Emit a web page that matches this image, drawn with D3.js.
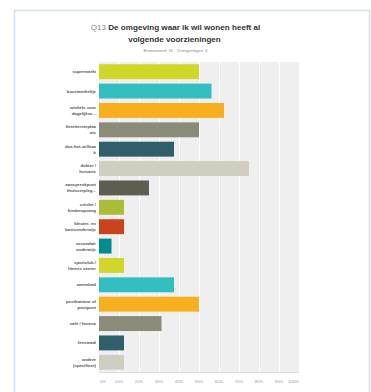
<!DOCTYPE html>
<html>
<head>
<meta charset="utf-8">
<script src="https://cdn.jsdelivr.net/npm/d3@7"></script>
<style>
  html, body { margin: 0; padding: 0; background: #fff; }
  svg { display: block; font-family: "Liberation Sans", Arial, Helvetica, sans-serif; }
</style>
</head>
<body>
<svg id="chart" width="371" height="392"></svg>
<script>
const categories = [
  ["supermarkt"],
  ["buurtwinkeltje"],
  ["winkels voor", "dagelijkse..."],
  ["fietshersteplaa", "ats"],
  ["doe-het-zelfzaa", "k"],
  ["dokter /", "huisarts"],
  ["aanspreekpunt", "thuisverpleg..."],
  ["crèche /", "kinderopvang"],
  ["kleuter- en", "basisonderwijs"],
  ["secundair", "onderwijs"],
  ["sportclub /", "fitness center"],
  ["zwembad"],
  ["postkantoor of", "postpunt"],
  ["café / horeca"],
  ["feestzaal"],
  ["andere", "(specifieer)"]
];
const values = [50, 56.25, 62.5, 50, 37.5, 75, 25, 12.5, 12.5, 6.25, 12.5, 37.5, 50, 31.25, 12.5, 12.5];
const colors = ["#d0d62a", "#33bfbf", "#f7af1e", "#8a8b79", "#2e5f6b", "#d0cec1", "#5f5e4e", "#aabd38",
                "#c9441c", "#008c8c", "#d0d62a", "#33bfbf", "#f7af1e", "#8a8b79", "#2e5f6b", "#d0cec1"];
const tickValues = [0, 10, 20, 30, 40, 50, 60, 70, 80, 90, 100];
const titleQ = "Q13";
const titleLines = ["De omgeving waar ik wil wonen heeft al", "volgende voorzieningen"];
const subtitle = "Beantwoord: 16    Overgeslagen: 0";

const svg = d3.select("#chart");

// frame
svg.append("path")
  .attr("d", "M14.5,400 L14.5,10.5 L369.5,10.5 L369.5,400")
  .attr("fill", "none").attr("stroke", "#cfe0ee").attr("stroke-width", 1.5);

// title
const t1 = svg.append("text").attr("x", 175.5).attr("y", 29.5).attr("text-anchor", "middle")
  .attr("font-size", 8.1);
t1.append("tspan").attr("fill", "#888").text(titleQ + " ");
t1.append("tspan").attr("fill", "#333").attr("font-weight", "bold").text(titleLines[0]);
svg.append("text").attr("x", 174.5).attr("y", 41.5).attr("text-anchor", "middle")
  .attr("font-size", 8.1).attr("font-weight", "bold").attr("fill", "#333").text(titleLines[1]);
svg.append("text").attr("x", 175.5).attr("y", 51.5).attr("text-anchor", "middle")
  .attr("font-size", 3.9).attr("font-weight", "bold").attr("fill", "#aaa")
  .attr("xml:space", "preserve").style("white-space", "pre").text(subtitle);

const x = d3.scaleLinear().domain([0, 100]).range([99, 299]);
const y = d3.scaleBand().domain(d3.range(categories.length)).range([62, 372])
  .paddingInner(0.23).paddingOuter(0.115);

// plot background
svg.append("rect").attr("x", x(0)).attr("y", 62).attr("width", x(100) - x(0)).attr("height", 310)
  .attr("fill", "#efefef");

// gridlines
svg.append("g").selectAll("line").data(tickValues.slice(1, -1)).join("line")
  .attr("x1", d => x(d) + 0.5).attr("x2", d => x(d) + 0.5)
  .attr("y1", 62).attr("y2", 372)
  .attr("stroke", "#fff").attr("stroke-width", 1);

// bars
svg.append("g").selectAll("rect").data(values).join("rect")
  .attr("x", x(0))
  .attr("y", (d, i) => y(i))
  .attr("width", d => x(d) - x(0))
  .attr("height", y.bandwidth())
  .attr("fill", (d, i) => colors[i]);

// bottom axis line
svg.append("line").attr("x1", x(0)).attr("x2", x(100)).attr("y1", 372.5).attr("y2", 372.5)
  .attr("stroke", "#ddd").attr("stroke-width", 1);

// x tick labels
svg.append("g").selectAll("text").data(tickValues).join("text")
  .attr("x", d => d === 0 ? x(0) + 1 : d === 100 ? x(100) : x(d))
  .attr("y", 382.5)
  .attr("text-anchor", d => d === 0 ? "start" : d === 100 ? "end" : "middle")
  .attr("font-size", 4.2).attr("fill", "#999")
  .text(d => d + "%");

// category labels
const lab = svg.append("g").selectAll("text").data(categories).join("text")
  .attr("text-anchor", "end").attr("font-size", 4.3).attr("font-weight", "bold").attr("fill", "#555");
lab.each(function(lines, i) {
  const cy = y(i) + y.bandwidth() / 2;
  const n = lines.length;
  const lh = 6;
  d3.select(this).selectAll("tspan").data(lines).join("tspan")
    .attr("x", 96)
    .attr("y", (l, j) => cy + 1.5 + (j - (n - 1) / 2) * lh)
    .text(l => l);
});
</script>
</body>
</html>
